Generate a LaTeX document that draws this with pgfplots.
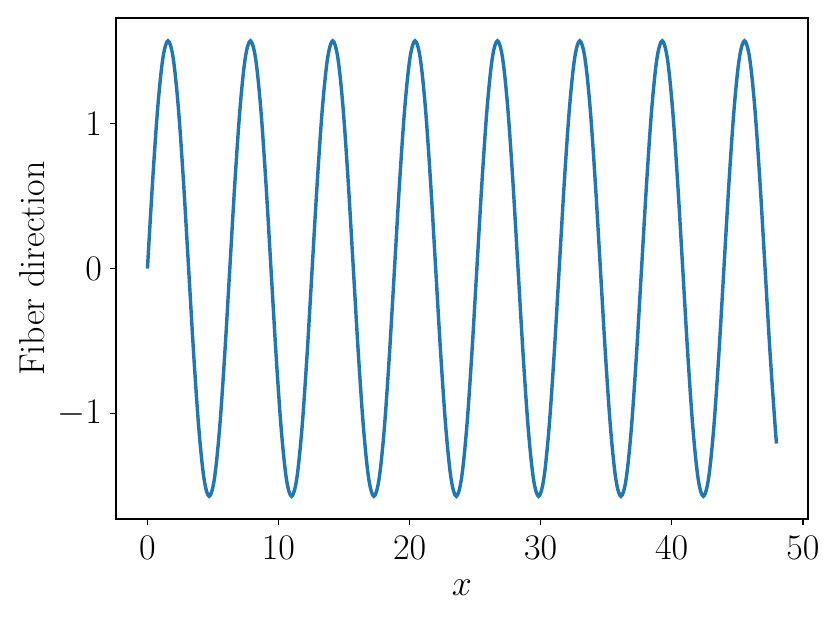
\RequirePackage{fix-cm}
\documentclass[border=0pt]{standalone}
\usepackage{fontspec}
\usepackage{pgfplots}
\pgfplotsset{compat=1.18}
\definecolor{tabblue}{HTML}{1F77B4}
\begin{document}
\fontsize{20}{24}\selectfont
\begin{tikzpicture}
\useasboundingbox (-64.4pt,-57.7pt) rectangle (396.4pt,288.2pt);
\begin{axis}[
  at={(0pt,0pt)}, anchor=south west,
  scale only axis, width=384.2pt, height=278.2pt,
  xmin=-2.4, xmax=50.4, ymin=-1.7279, ymax=1.7279,
  xtick={0,10,20,30,40,50}, ytick={-1,0,1},
  tick align=outside, tick pos=lower,
  major tick length=3.5pt,
  every tick/.style={black, line width=0.8pt},
  axis line style={line width=0.8pt},
  tick label style={font=\fontsize{20}{24}\selectfont},
  xticklabel style={yshift=1pt},
  yticklabel style={xshift=2.5pt},
  label style={font=\fontsize{20}{24}\selectfont},
  xlabel={$x$}, ylabel={Fiber direction},
  xlabel style={yshift=2pt},
  ylabel style={yshift=-6.5pt},
]
\addplot[tabblue, line width=1.9pt, smooth, tension=0.55] coordinates {
(0,0) (0.3927,0.6011) (0.7854,1.1107) (1.1781,1.4512) (1.5708,1.5708) (1.9635,1.4512) (2.3562,1.1107) (2.7489,0.6011) (3.1416,0) (3.5343,-0.6011) (3.9270,-1.1107) (4.3197,-1.4512) (4.7124,-1.5708) (5.1051,-1.4512) (5.4978,-1.1107) (5.8905,-0.6011)
(6.2832,0) (6.6759,0.6011) (7.0686,1.1107) (7.4613,1.4512) (7.8540,1.5708) (8.2467,1.4512) (8.6394,1.1107) (9.0321,0.6011) (9.4248,0) (9.8175,-0.6011) (10.2102,-1.1107) (10.6029,-1.4512) (10.9956,-1.5708) (11.3883,-1.4512) (11.7810,-1.1107) (12.1737,-0.6011)
(12.5664,0) (12.9591,0.6011) (13.3518,1.1107) (13.7445,1.4512) (14.1372,1.5708) (14.5299,1.4512) (14.9226,1.1107) (15.3153,0.6011) (15.7080,0) (16.1007,-0.6011) (16.4934,-1.1107) (16.8861,-1.4512) (17.2788,-1.5708) (17.6715,-1.4512) (18.0642,-1.1107) (18.4569,-0.6011)
(18.8496,0) (19.2423,0.6011) (19.6350,1.1107) (20.0277,1.4512) (20.4204,1.5708) (20.8131,1.4512) (21.2058,1.1107) (21.5985,0.6011) (21.9912,0) (22.3839,-0.6011) (22.7766,-1.1107) (23.1693,-1.4512) (23.5620,-1.5708) (23.9547,-1.4512) (24.3474,-1.1107) (24.7401,-0.6011)
(25.1327,0) (25.5254,0.6011) (25.9181,1.1107) (26.3108,1.4512) (26.7035,1.5708) (27.0962,1.4512) (27.4889,1.1107) (27.8816,0.6011) (28.2743,0) (28.6670,-0.6011) (29.0597,-1.1107) (29.4524,-1.4512) (29.8451,-1.5708) (30.2378,-1.4512) (30.6305,-1.1107) (31.0232,-0.6011)
(31.4159,0) (31.8086,0.6011) (32.2013,1.1107) (32.5940,1.4512) (32.9867,1.5708) (33.3794,1.4512) (33.7721,1.1107) (34.1648,0.6011) (34.5575,0) (34.9502,-0.6011) (35.3429,-1.1107) (35.7356,-1.4512) (36.1283,-1.5708) (36.5210,-1.4512) (36.9137,-1.1107) (37.3064,-0.6011)
(37.6991,0) (38.0918,0.6011) (38.4845,1.1107) (38.8772,1.4512) (39.2699,1.5708) (39.6626,1.4512) (40.0553,1.1107) (40.4480,0.6011) (40.8407,0) (41.2334,-0.6011) (41.6261,-1.1107) (42.0188,-1.4512) (42.4115,-1.5708) (42.8042,-1.4512) (43.1969,-1.1107) (43.5896,-0.6011)
(43.9823,0) (44.3750,0.6011) (44.7677,1.1107) (45.1604,1.4512) (45.5531,1.5708) (45.9458,1.4512) (46.3385,1.1107) (46.7312,0.6011) (47.1239,0) (47.5166,-0.6011) (47.9093,-1.1107) (48,-1.2070)
};
\end{axis}
\end{tikzpicture}
\end{document}
